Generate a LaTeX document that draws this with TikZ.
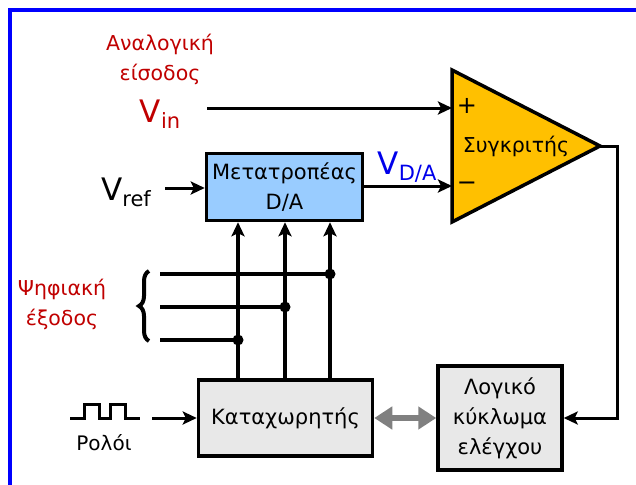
\documentclass[tikz,border=0pt]{standalone}
\usepackage{fontspec}
\setmainfont{DejaVu Sans}
\usepackage{tikz}
\usetikzlibrary{arrows.meta,positioning,decorations.pathreplacing}
\definecolor{frameCol}{RGB}{0,0,255}
\definecolor{labCol}{RGB}{192,0,0}
\definecolor{vdaCol}{RGB}{0,0,235}
\definecolor{cmpCol}{RGB}{255,192,0}
\definecolor{dacCol}{RGB}{153,204,255}
\definecolor{boxgray}{RGB}{232,232,232}
\definecolor{arrGray}{RGB}{128,128,128}
\newcommand{\bigV}[1]{{\fontsize{31}{31}\selectfont V}\raisebox{-6pt}{\fontsize{21}{21}\selectfont #1}}
\tikzset{
  block/.style={draw,line width=3.5pt,align=center,inner sep=0pt,
                font=\fontsize{21}{30}\selectfont},
  dacbox/.style={block,fill=dacCol},
  regbox/.style={block,fill=boxgray},
  flow/.style={-{Stealth[length=14pt,width=13pt,inset=3pt]},line width=3pt},
  wire/.style={line width=3.5pt},
  lab/.style={text=labCol,align=center,font=\fontsize{20.5}{30}\selectfont},
  txt/.style={font=\fontsize{21}{30}\selectfont,inner sep=1pt},
}

\begin{document}
\begin{tikzpicture}[x=1pt,y=-1pt]
      \useasboundingbox (0,0) rectangle (636,484);
      \draw[line width=4pt,frameCol] (640,10) -- (10,10) -- (10,490);
      \node[lab] (anin) at (160,59) {Αναλογική\\είσοδος};
      \node[text=labCol] (vin) at (160,114) {\bigV{in}};
      \coordinate (vinS) at (207,108);
      \draw[line width=3.5pt,fill=cmpCol] (452,70) -- (600,146) -- (452,222) -- cycle;
      \coordinate (cmpP) at (452,108);
      \coordinate (cmpM) at (452,186);
      \coordinate (cmpO) at (600,146);
      \node[txt,font=\fontsize{20.5}{30}\selectfont] (cmp) at (516,146) {Συγκριτής};
      \node[txt,font=\fontsize{24}{24}\selectfont] (plus) at (467,106) {+};
      \node[txt,font=\fontsize{24}{24}\selectfont] (minus) at (467,186) {−};
      \node[dacbox,minimum width=156pt,minimum height=67pt] (dac) at (284.5,187) {Μετατροπέας\\D/A};
      \node (vref) at (126,192) {\bigV{ref}};
      \coordinate (vrefS) at (165,188);
      \node[text=vdaCol] (vda) at (407,167) {\bigV{D/A}};
      \node[regbox,minimum width=174pt,minimum height=76pt] (reg) at (285.5,418) {Καταχωρητής};
      \node[regbox,minimum width=124pt,minimum height=104pt] (logic) at (500,418) {Λογικό\\κύκλωμα\\ελέγχου};
      \draw[flow] (vinS) -- (cmpP);
      \draw[flow] (dac.east |- cmpM) -- (cmpM);
      \draw[flow] (vrefS) -- (vrefS -| dac.west);
      \draw[flow] (cmpO) -- ++(17,0) |- (logic.east);
      \foreach \x/\y/\n in {330/274/3,285/307/2,238/340/1}{
        \coordinate (b\n) at (\x,\y);
        \coordinate (o\n) at (160,\y);
        \draw[wire] (o\n) -- (b\n);
        \fill (b\n) circle (5.5);
        \draw[flow,line width=3.5pt] (reg.north -| b\n) -- (dac.south -| b\n);
      }
      \draw[line width=4pt,decorate,decoration={brace,amplitude=10pt}] (149,341) -- (149,271);
      \node[lab] (dout) at (62,304) {Ψηφιακή\\έξοδος};
      \draw[line width=3pt] (70,418) -| (84,404) -| (99,418) -| (110,404) -| (125,418) -- (140,418);
      \node[txt,font=\fontsize{20}{20}\selectfont] (clk) at (104,443) {Ρολόι};
      \coordinate (clkS) at (152,418);
      \draw[flow] (clkS) -- (clkS -| reg.west);
      \draw[{Triangle[length=18pt,width=22pt]}-{Triangle[length=18pt,width=22pt]},line width=6pt,arrGray]
        (reg.east) -- (logic.west);
    \end{tikzpicture}
\end{document}
